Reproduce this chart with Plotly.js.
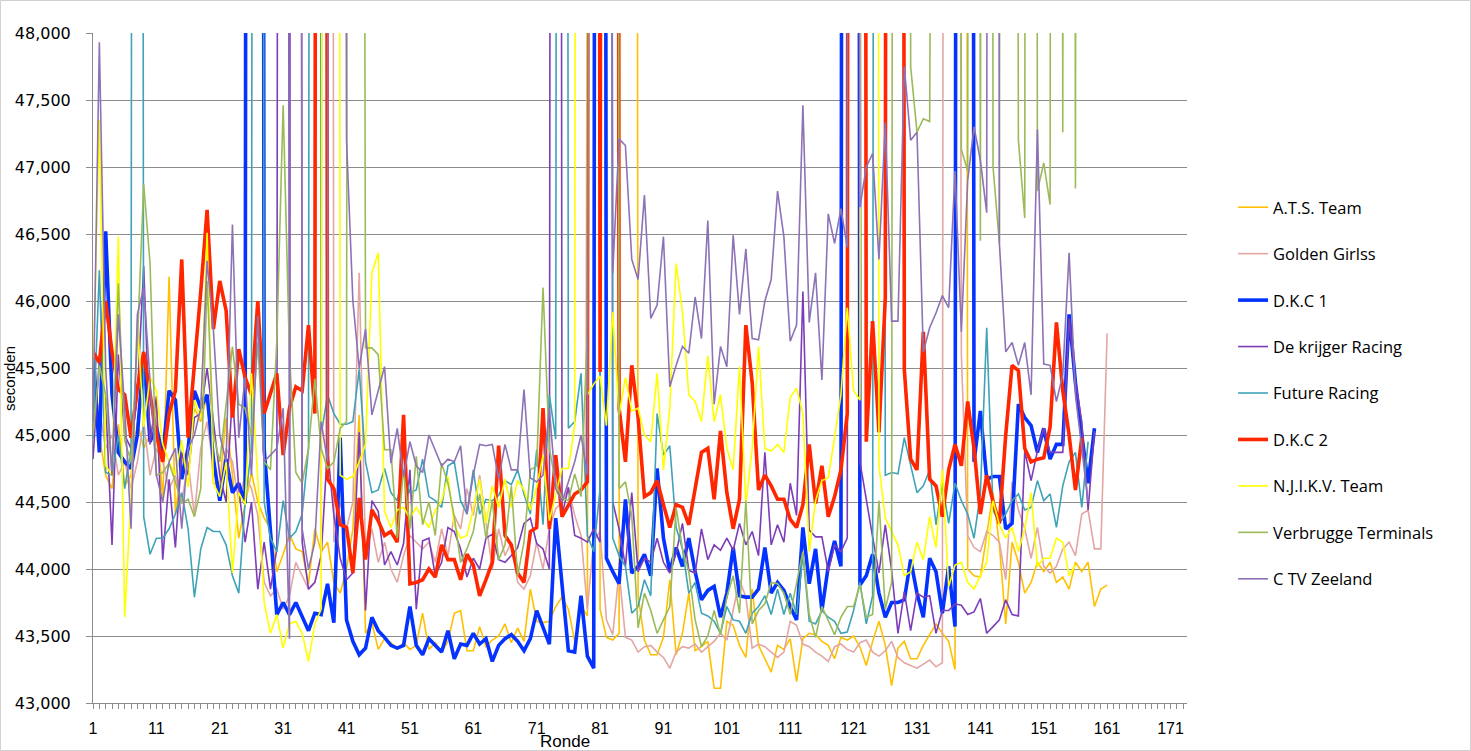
<!DOCTYPE html>
<html><head><meta charset="utf-8">
<script src="https://cdn.plot.ly/plotly-3.0.1.min.js"></script>
<style>html,body{margin:0;padding:0;background:#fff}#chart{width:1471px;height:751px}</style>
</head><body><div id="chart"></div>
<script>
// Lap numbers (Ronde)
const laps = [1,2,3,4,5,6,7,8,9,10,11,12,13,14,15,16,17,18,19,20,21,22,23,24,25,26,27,28,29,30,31,32,33,34,35,36,37,38,39,40,41,42,43,44,45,46,47,48,49,50,51,52,53,54,55,56,57,58,59,60,61,62,63,64,65,66,67,68,69,70,71,72,73,74,75,76,77,78,79,80,81,82,83,84,85,86,87,88,89,90,91,92,93,94,95,96,97,98,99,100,101,102,103,104,105,106,107,108,109,110,111,112,113,114,115,116,117,118,119,120,121,122,123,124,125,126,127,128,129,130,131,132,133,134,135,136,137,138,139,140,141,142,143,144,145,146,147,148,149,150,151,152,153,154,155,156,157,158,159,160,161];

// Lap times in seconds (laps with a pit stop run off the top of the scale)
const atsTeam = [45.40,45.00,44.70,44.60,45.08,44.62,44.70,45.10,44.90,45.00,
45.20,44.50,46.18,44.41,44.80,44.90,45.20,45.10,45.30,44.64,
44.64,45.13,44.70,44.23,44.48,44.72,44.50,44.38,44.30,43.98,
44.11,44.26,44.15,44.13,43.89,44.30,44.13,44.20,43.90,43.82,
44.00,44.30,45.15,43.52,43.60,43.40,43.48,43.45,43.40,43.45,
43.40,43.43,43.67,43.40,43.45,43.38,43.46,43.67,43.69,43.39,
43.39,43.57,43.42,43.47,43.50,43.59,43.45,43.56,43.46,43.85,
43.61,43.60,43.61,43.72,43.79,43.70,43.46,43.72,43.65,90,
43.70,43.49,43.47,43.52,90,90,43.80,43.47,43.36,43.36,
43.49,43.92,43.36,43.52,43.82,43.39,43.42,43.46,43.11,43.11,
43.61,43.58,43.43,43.34,43.85,43.43,43.33,43.23,43.43,43.40,
43.48,43.16,43.48,43.52,43.51,43.46,43.43,43.33,43.49,43.47,
43.50,43.42,43.28,43.46,43.61,43.43,43.13,43.41,43.46,43.33,
43.33,43.43,43.51,43.59,43.52,43.46,43.25,90,44.00,43.95,
43.94,44.25,44.57,44.18,43.59,44.20,44.05,43.82,43.90,44.05,
43.98,44.05,43.90,43.94,43.85,44.05,43.98,44.05,43.72,43.85,43.88];

const goldenGirlss = [45.30,45.20,44.90,45.00,44.70,44.80,44.60,44.80,45.10,44.70,
44.90,44.80,44.60,44.70,44.50,44.80,44.40,44.90,45.10,44.75,
44.60,44.90,44.80,44.50,44.70,44.60,44.40,43.90,43.80,43.85,
43.70,43.80,44.05,43.95,43.85,43.90,44.10,90,44.20,44.50,
44.30,44.50,46.21,44.10,44.30,44.05,44.20,44.00,43.90,44.10,
44.25,44.20,44.15,44.20,44.05,44.30,44.10,44.40,44.30,44.60,
44.40,44.70,44.35,44.00,44.30,44.10,44.20,43.90,43.85,43.95,
44.20,44.00,44.30,44.45,44.50,44.60,44.40,44.25,43.70,44.21,
44.28,43.62,43.51,43.98,43.49,43.47,43.38,43.42,43.43,43.38,
43.34,43.26,43.38,43.42,43.41,43.44,43.38,43.42,43.46,43.52,
43.47,43.69,43.92,43.79,43.41,43.44,43.42,43.38,43.34,43.38,
43.61,43.58,43.44,43.42,43.38,43.35,43.31,43.42,43.44,43.40,
43.38,43.45,43.47,43.38,43.35,43.39,43.46,43.34,43.30,43.28,
43.26,43.29,43.32,43.27,43.30,90,90,45.60,44.25,44.16,
44.13,44.28,44.25,44.20,43.92,44.65,44.44,44.30,44.08,44.31,
44.02,43.97,44.02,44.15,44.20,44.10,44.41,44.44,44.15,44.15,45.76];

const dkc1 = [45.64,44.87,46.52,45.30,44.87,44.80,44.75,45.00,45.60,44.95,
45.06,44.85,45.33,45.26,44.67,44.90,45.33,45.20,45.30,44.82,
44.51,44.82,44.57,44.64,44.49,90,90,44.90,44.28,43.66,
43.75,43.66,43.75,43.64,43.54,43.67,43.66,43.89,43.60,44.98,
43.62,43.46,43.36,43.41,43.64,43.54,43.49,43.43,43.41,43.43,
43.72,43.43,43.36,43.48,43.43,43.38,43.54,43.33,43.44,43.43,
43.52,43.44,43.48,43.31,43.43,43.48,43.51,43.46,43.39,43.48,
43.69,43.56,43.44,44.38,43.89,43.39,43.38,43.80,43.35,43.26,
90,44.08,43.98,43.89,44.52,43.97,44.02,44.11,43.95,44.75,
44.23,43.98,44.16,44.02,44.23,43.98,43.77,43.84,43.87,43.64,
43.82,44.16,43.80,43.79,43.79,43.85,44.16,43.82,43.90,43.84,
43.72,43.62,44.31,43.89,44.15,43.69,44.02,44.21,44.02,90,
90,43.88,43.95,44.11,43.82,43.64,43.75,43.75,43.77,44.07,
43.82,43.64,44.08,43.98,43.67,44.02,43.57,90,90,44.80,
45.18,44.67,44.69,44.69,44.30,44.34,45.23,45.13,45.07,44.87,
45.05,44.82,44.93,44.93,45.90,45.39,45.00,44.64,45.05];

const deKrijgerRacing = [44.82,45.56,45.26,44.18,45.60,45.00,44.90,45.30,46.26,44.93,
45.29,44.07,44.67,44.16,44.87,44.70,45.13,45.16,45.50,45.10,
44.70,44.50,45.30,44.60,44.20,44.50,43.85,44.20,43.85,44.15,
90,44.20,90,44.20,43.85,43.90,44.10,44.90,44.40,44.08,
43.92,43.97,45.02,43.69,44.51,44.43,44.03,44.13,44.03,44.19,
44.74,43.70,44.21,44.23,43.95,44.05,44.31,44.28,44.15,43.94,
44.08,44.00,44.23,44.26,44.07,44.05,44.10,44.16,44.34,44.38,
44.19,44.15,44.00,90,44.40,44.61,44.25,44.23,44.20,44.30,
44.20,90,44.50,44.30,44.02,44.57,43.98,44.08,44.05,44.23,
44.05,43.97,44.12,44.34,43.99,43.97,44.30,44.07,44.18,44.14,
44.23,44.14,44.34,44.18,44.28,44.10,44.87,44.18,44.33,44.20,
44.64,44.40,46.07,44.29,44.24,44.24,43.98,44.18,44.13,44.23,
90,44.80,44.51,44.24,43.97,44.33,43.99,43.52,43.83,43.54,
43.82,43.79,43.80,43.52,43.69,43.69,43.74,43.73,43.66,43.68,
43.78,43.52,43.57,43.62,43.77,43.66,43.65,44.88,44.66,44.88,
45.05,44.87,44.87,44.87,45.87,45.40,45.10,44.44,45.03];

const futureRacing = [44.97,46.23,44.72,44.70,45.00,44.60,44.90,90,44.39,44.11,
44.23,44.23,44.30,44.41,44.57,44.30,43.79,44.15,44.31,44.28,
44.28,44.18,43.95,43.82,44.50,44.90,90,44.50,44.23,44.13,
44.51,44.23,44.28,44.41,44.90,90,45.00,45.30,45.16,45.08,
45.08,45.10,45.49,44.80,44.57,44.59,44.75,44.57,44.51,44.74,
44.57,44.59,44.82,44.54,44.51,44.46,44.77,44.80,44.51,44.41,
44.74,44.41,44.52,44.51,44.55,44.66,44.63,44.74,44.56,44.41,
44.89,44.33,45.30,44.97,90,45.05,45.10,45.46,44.25,44.13,
44.60,90,44.23,44.10,44.02,43.67,43.72,43.92,43.80,45.16,
44.85,44.92,44.31,44.15,43.82,43.90,43.67,43.65,43.61,43.52,
43.72,43.62,43.61,43.52,43.67,43.72,43.80,43.66,43.85,43.66,
43.82,43.66,44.11,43.61,43.59,43.69,43.64,43.61,43.52,43.53,
43.69,43.90,43.59,43.80,90,44.70,44.72,44.71,44.98,44.77,
44.57,44.62,44.74,44.33,44.64,44.34,44.64,44.51,44.41,44.23,
44.56,45.80,44.44,44.34,44.41,44.51,44.56,44.44,44.46,44.66,
44.51,44.56,44.31,44.62,44.80,44.87,44.46,44.95];

const dkc2 = [45.62,45.54,46.00,45.62,45.34,45.30,44.98,45.35,45.62,45.33,
45.00,44.80,45.16,45.33,46.31,44.98,45.52,46.07,46.68,45.79,
46.15,45.93,45.13,45.64,45.43,45.30,46.00,45.16,45.31,45.46,
44.85,45.20,45.36,45.33,45.82,45.16,90,44.67,44.60,44.33,
44.31,43.97,44.53,44.07,44.44,44.36,44.25,44.28,44.20,45.15,
43.89,43.90,43.92,44.00,43.94,44.18,44.07,44.07,43.92,44.11,
44.03,43.80,43.92,44.05,44.92,44.25,44.18,43.97,43.90,44.28,
44.31,45.20,44.30,44.85,44.39,44.48,44.56,44.59,44.65,90,
45.47,90,90,45.20,44.80,45.52,45.13,44.54,44.57,44.66,
44.48,44.31,44.48,44.46,44.33,44.61,44.87,44.90,44.52,45.03,
44.57,44.30,44.52,45.82,45.39,44.59,44.70,44.62,44.52,44.52,
44.37,44.31,44.48,44.93,44.49,44.77,44.39,44.54,44.74,45.16,
90,90,44.95,45.85,45.02,46.02,90,90,45.49,44.82,
44.74,45.77,44.67,44.62,44.39,44.74,44.93,44.77,45.25,44.90,
44.41,44.70,44.50,44.34,45.00,45.52,45.48,44.90,44.80,44.82,
44.83,45.06,45.84,45.33,45.00,44.59,44.98];

const njikvTeam = [45.40,47.35,44.77,44.70,46.48,43.64,44.54,45.85,45.06,45.43,
45.33,44.93,44.80,44.70,44.96,44.61,45.26,45.13,46.51,44.64,
44.54,44.80,43.97,44.57,44.48,45.46,44.67,43.75,43.52,43.66,
43.41,43.59,43.61,43.52,43.31,43.59,43.70,90,90,44.70,
44.67,44.69,44.80,44.93,46.21,46.36,44.43,44.31,44.44,44.46,
44.38,44.46,44.38,44.31,44.44,44.51,44.69,44.33,44.23,44.25,
44.45,44.67,44.34,44.62,44.46,44.67,44.46,44.66,44.59,44.44,
44.61,44.85,44.36,44.56,44.75,44.75,45.07,90,45.30,45.38,
45.44,45.07,45.92,45.15,45.43,45.18,45.20,45.00,44.95,45.46,
44.74,45.20,46.28,45.92,45.30,45.25,45.10,45.59,45.10,45.30,
44.90,44.74,45.51,44.48,44.90,45.66,44.90,44.88,44.93,44.87,
45.28,45.35,45.16,44.13,44.51,44.66,44.68,44.98,45.30,45.95,
45.33,45.26,90,90,44.77,44.38,44.28,44.18,43.95,43.98,
44.20,44.07,44.39,44.16,44.74,43.87,44.03,44.05,43.90,43.85,
43.95,44.05,44.51,44.33,44.23,44.31,44.13,44.30,44.57,44.02,
44.08,44.08,44.23,44.20,43.95,44.03];

const verbruggeTerminals = [45.00,45.52,45.30,44.70,46.13,44.96,44.80,45.69,46.87,46.28,
44.70,44.72,44.79,44.65,44.49,44.52,44.39,44.60,46.15,45.00,
44.80,45.23,45.66,45.23,45.20,45.00,45.69,44.80,44.74,45.70,
47.46,45.60,44.72,44.64,44.90,45.42,44.90,44.75,44.80,45.05,
45.10,90,90,45.65,45.65,45.60,44.89,44.89,44.23,44.74,
44.30,44.84,44.33,44.50,44.25,44.79,44.64,44.39,44.05,44.15,
44.28,44.56,44.23,44.51,44.07,44.18,44.62,43.95,44.20,44.74,
44.77,46.10,44.90,44.64,44.53,44.51,44.71,44.54,45.79,90,
90,90,90,44.60,44.65,44.40,43.56,43.82,43.69,43.52,
43.62,43.72,44.46,44.15,43.98,43.62,43.42,43.50,43.69,43.51,
43.79,43.95,43.67,44.51,43.59,43.69,43.74,43.90,43.89,43.82,
43.66,43.89,44.13,43.66,43.49,43.72,43.62,43.51,43.64,43.72,
43.72,43.88,43.64,43.66,44.51,43.70,43.90,90,90,47.75,
47.26,47.36,47.34,90,90,90,90,47.13,46.97,90,
46.45,90,47.00,46.43,90,90,47.20,46.62,90,46.82,
47.03,46.72,90,47.26,90,46.84,90];

const ctvZeeland = [45.10,47.93,45.50,44.70,45.90,45.20,44.30,45.90,46.10,45.40,
44.70,44.50,44.80,44.90,44.30,44.90,45.00,45.20,46.30,45.78,
45.00,44.80,46.57,44.98,45.43,44.70,45.89,44.80,44.85,44.90,
45.20,43.48,90,44.30,44.00,44.20,45.10,44.80,90,90,
47.20,46.00,45.50,45.79,45.15,45.33,45.51,44.79,45.05,44.69,
44.95,44.77,44.72,45.00,44.88,44.77,44.82,44.80,44.92,44.41,
44.70,44.93,44.92,44.93,44.67,44.93,44.74,44.74,45.34,44.68,
44.65,44.70,45.20,44.60,44.50,44.65,44.80,45.00,44.70,90,
90,90,46.21,47.21,47.16,46.31,46.16,46.79,45.87,45.97,
46.48,45.36,45.52,45.66,45.61,46.03,45.72,46.60,45.23,45.66,
45.51,46.49,45.90,46.39,45.72,45.71,46.00,46.16,46.82,46.48,
45.70,45.82,47.46,45.84,46.21,45.41,46.65,46.43,46.69,46.40,
90,46.70,47.00,47.10,46.31,47.33,45.85,45.85,47.75,47.20,
47.26,45.62,45.80,45.91,46.04,45.95,46.97,45.77,46.90,47.30,
47.05,46.66,90,46.43,45.62,45.69,45.52,45.69,45.30,47.28,
45.53,45.52,45.25,45.45,46.36,45.30,44.90,44.50];

const teamNames = ['A.T.S. Team','Golden Girlss','D.K.C 1','De krijger Racing','Future Racing','D.K.C 2','N.J.I.K.V. Team','Verbrugge Terminals','C TV Zeeland'];
const teamValues = [atsTeam, goldenGirlss, dkc1, deKrijgerRacing, futureRacing, dkc2, njikvTeam, verbruggeTerminals, ctvZeeland];
const teamColors = ['#FFC000','#E3A6A4','#0433FF','#7D3DB8','#3FA3B8','#FF2600','#FFFF00','#9BBB59','#8E72B6'];
const teamWidths = [1.6,1.6,3.6,1.6,1.6,3.6,1.6,1.6,1.6];

const traces = teamNames.map((name, i) => ({
  type: 'scatter', mode: 'lines', name: name,
  x: laps.slice(0, teamValues[i].length), y: teamValues[i],
  legendgroup: 'g' + i,
  line: {color: teamColors[i], width: teamWidths[i]},
  hoverinfo: 'skip'
}));

const layout = {
  width: 1471, height: 751,
  margin: {l: 93, r: 284, t: 33, b: 48, pad: 0},
  paper_bgcolor: '#ffffff', plot_bgcolor: '#ffffff',
  separators: ',.',
  showlegend: true,
  legend: {x: 1.0421, xanchor: 'left', y: 0.7657, yanchor: 'top',
    font: {family: 'Open Sans, Liberation Sans, sans-serif', size: 16.5, color: '#000'},
    traceorder: 'grouped', tracegroupgap: 22, bgcolor: 'rgba(0,0,0,0)'},
  xaxis: {range: [1, 173.6], tickmode: 'linear', tick0: 1, dtick: 10,
    ticks: 'outside', ticklen: 5, tickcolor: '#8c8c8c',
    minor: {tickmode: 'linear', tick0: 1, dtick: 1, ticks: 'outside', ticklen: 5, tickcolor: '#8c8c8c', showgrid: false},
    showline: true, linecolor: '#8c8c8c', linewidth: 1, showgrid: false, zeroline: false,
    ticklabelstandoff: 6,
    tickfont: {family: 'Liberation Sans Narrow, Liberation Sans, sans-serif', size: 16, color: '#000'}},
  yaxis: {range: [43, 48], tickmode: 'linear', tick0: 43, dtick: 0.5, tickformat: '.3f',
    ticks: 'outside', ticklen: 6, tickcolor: '#8c8c8c',
    showline: true, linecolor: '#8c8c8c', linewidth: 1,
    showgrid: true, gridcolor: '#8c8c8c', gridwidth: 1, zeroline: false,
    ticklabelstandoff: 12,
    tickfont: {family: 'DejaVu Sans, Verdana, sans-serif', size: 16, color: '#000'}},
  annotations: [
    {text: 'Ronde', xref: 'paper', yref: 'paper', x: 0.4314, y: -0.0575, xanchor: 'center', yanchor: 'middle', showarrow: false,
     font: {family: 'Liberation Sans Narrow, Liberation Sans, sans-serif', size: 17, color: '#000'}},
    {text: 'seconden', xref: 'paper', yref: 'paper', x: -0.0768, y: 0.485, xanchor: 'center', yanchor: 'middle', showarrow: false, textangle: -90,
     font: {family: 'Liberation Sans Narrow, Liberation Sans, sans-serif', size: 15, color: '#000'}}
  ],
  shapes: [
    {type: 'rect', xref: 'paper', yref: 'paper', x0: -0.0846, x1: 1.2591, y0: -0.0709, y1: 1.0485,
     line: {color: '#d0d0d0', width: 1}, fillcolor: 'rgba(0,0,0,0)', layer: 'below'}
  ]
};

Plotly.newPlot('chart', traces, layout, {staticPlot: true, displayModeBar: false});
</script>
</body></html>
